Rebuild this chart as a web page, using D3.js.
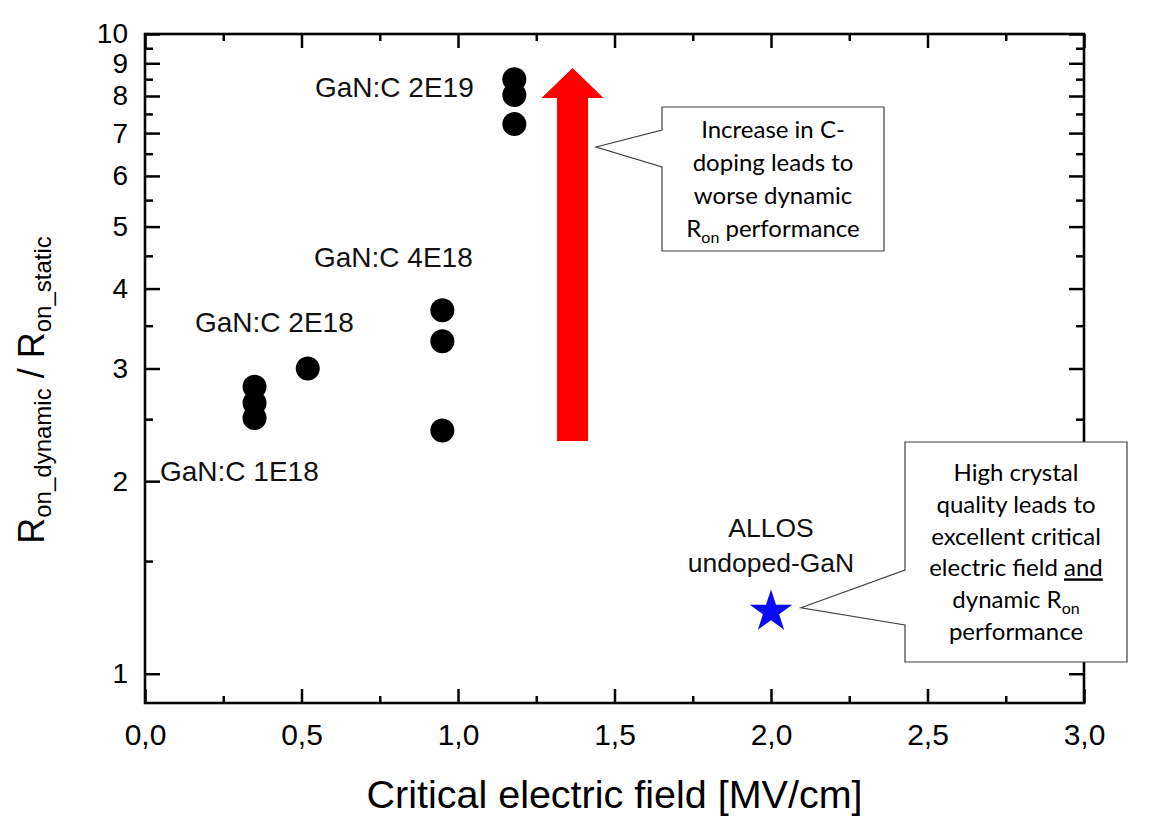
<!DOCTYPE html>
<html lang="en">
	<head>
		<meta charset="utf-8">
		<title>Dynamic Ron vs critical electric field</title>
		<style type="text/css">
			body { margin: 0; background: #fff; }
			svg { display: block; }
		</style>
	</head>
	<body>
		<script src="https://d3js.org/d3.v7.min.js"></script>
		<script type="text/javascript">
			//Width and height
			var w = 1168;
			var h = 834;
			var plotL = 145, plotR = 1084, plotT = 34, plotB = 703;

			//Measured points (critical field, Ron ratio)
			var fieldValues = [0.35, 0.35, 0.35, 0.52, 0.95, 0.95, 0.95, 1.18, 1.18, 1.18];
			var ratioValues = [2.81, 2.65, 2.51, 3.00, 3.70, 3.31, 2.40, 8.50, 8.03, 7.23];

			//ALLOS point
			var allosField = [2.0];
			var allosRatio = [1.25];

			//Tick values and labels
			var xTicks = [0, 0.5, 1.0, 1.5, 2.0, 2.5, 3.0];
			var xTickLabels = ["0,0", "0,5", "1,0", "1,5", "2,0", "2,5", "3,0"];
			var xMinorTicks = [0.25, 0.75, 1.25, 1.75, 2.25, 2.75];
			var yTicks = [1, 2, 3, 4, 5, 6, 7, 8, 9, 10];
			var yMinorTicks = [1.5, 2.5, 3.5, 4.5, 5.5, 6.5, 7.5, 8.5, 9.5];

			//Group labels
			var groupLabels = ["GaN:C 2E19", "GaN:C 4E18", "GaN:C 2E18", "GaN:C 1E18"];

			//Create scale functions
			var xScale = d3.scaleLinear()
							.domain([0, 3])
							.range([plotL, plotR]);

			var yScale = d3.scaleLog()
							.domain([0.9, 10])
							.range([plotB, plotT]);

			//Create SVG element
			var svg = d3.select("body")
						.append("svg")
						.attr("width", w)
						.attr("height", h);

			svg.append("rect")
			   .attr("width", w)
			   .attr("height", h)
			   .attr("fill", "#fff");

			var font = "'Liberation Sans', Arial, sans-serif";
			var calloutFont = "Lato, 'Open Sans', sans-serif";

			//Axes (ticks point inward, on all four sides)
			function styleAxis(g, fs) {
				g.select(".domain").remove();
				g.selectAll("line").attr("stroke", "#000").attr("stroke-width", 2.5);
				g.selectAll("text")
				 .attr("fill", "#000")
				 .attr("font-family", font)
				 .attr("font-size", fs);
			}

			var xMajor = d3.axisBottom(xScale)
							.tickValues(xTicks)
							.tickSize(-14)
							.tickPadding(21)
							.tickFormat(function(d, i) { return xTickLabels[i]; });
			var xMinor = d3.axisBottom(xScale).tickValues(xMinorTicks).tickSize(-7).tickFormat("");
			var yMajor = d3.axisLeft(yScale)
							.tickValues(yTicks)
							.tickSize(-15)
							.tickPadding(17)
							.tickFormat(function(d) { return d; });
			var yMinor = d3.axisLeft(yScale).tickValues(yMinorTicks).tickSize(-8).tickFormat("");

			svg.append("g").attr("transform", "translate(0," + plotB + ")").call(xMajor).call(styleAxis, 30);
			svg.append("g").attr("transform", "translate(0," + plotB + ")").call(xMinor).call(styleAxis, 30);
			svg.append("g").attr("transform", "translate(0," + plotT + ")")
			   .call(d3.axisTop(xScale).tickValues(xTicks).tickSize(-14).tickFormat("")).call(styleAxis, 30);
			svg.append("g").attr("transform", "translate(0," + plotT + ")")
			   .call(d3.axisTop(xScale).tickValues(xMinorTicks).tickSize(-7).tickFormat("")).call(styleAxis, 30);

			svg.append("g").attr("transform", "translate(" + plotL + ",0)").call(yMajor).call(styleAxis, 28);
			svg.append("g").attr("transform", "translate(" + plotL + ",0)").call(yMinor).call(styleAxis, 28);
			svg.append("g").attr("transform", "translate(" + plotR + ",0)")
			   .call(d3.axisRight(yScale).tickValues(yTicks).tickSize(-15).tickFormat("")).call(styleAxis, 28);
			svg.append("g").attr("transform", "translate(" + plotR + ",0)")
			   .call(d3.axisRight(yScale).tickValues(yMinorTicks).tickSize(-8).tickFormat("")).call(styleAxis, 28);

			//Frame
			svg.append("rect")
			   .attr("x", plotL)
			   .attr("y", plotT)
			   .attr("width", plotR - plotL)
			   .attr("height", plotB - plotT)
			   .attr("fill", "none")
			   .attr("stroke", "#000")
			   .attr("stroke-width", 2.6);

			//Axis titles
			svg.append("text")
			   .attr("x", (plotL + plotR) / 2)
			   .attr("y", 808)
			   .attr("text-anchor", "middle")
			   .attr("font-family", font)
			   .attr("font-size", 39.5)
			   .text("Critical electric field [MV/cm]");

			var yTitle = svg.append("text")
							.attr("transform", "translate(44,390) rotate(-90)")
							.attr("text-anchor", "middle")
							.attr("font-family", font)
							.attr("font-size", 36);
			yTitle.append("tspan").text("R");
			yTitle.append("tspan").attr("font-size", 24).attr("dy", 7).text("on_dynamic");
			yTitle.append("tspan").attr("dy", -7).text(" / R");
			yTitle.append("tspan").attr("font-size", 24).attr("dy", 7).text("on_static");

			//Red arrow (drawn in data coordinates)
			var arrowX = xScale(1.366), arrowY0 = yScale(2.31), arrowY1 = yScale(8.85);
			var shaftHalf = 15.5, headHalf = 31, headLen = 30;
			svg.append("path")
			   .attr("d", "M" + (arrowX - shaftHalf) + "," + arrowY0 +
						  "V" + (arrowY1 + headLen) +
						  "H" + (arrowX - headHalf) +
						  "L" + arrowX + "," + arrowY1 +
						  "L" + (arrowX + headHalf) + "," + (arrowY1 + headLen) +
						  "H" + (arrowX + shaftHalf) +
						  "V" + arrowY0 + "Z")
			   .attr("fill", "#ff0000");

			//Create circles
			svg.selectAll("circle")
			   .data(fieldValues)
			   .enter()
			   .append("circle")
			   .attr("cx", function(d) { return xScale(d); })
			   .attr("cy", function(d, i) { return yScale(ratioValues[i]); })
			   .attr("r", 12)
			   .attr("fill", "#000");

			//ALLOS star
			svg.selectAll("path.star")
			   .data(allosField)
			   .enter()
			   .append("path")
			   .attr("class", "star")
			   .attr("d", d3.symbol().type(d3.symbolStar).size(560))
			   .attr("transform", function(d, i) {
			   		return "translate(" + xScale(d) + "," + yScale(allosRatio[i]) + ")";
			   })
			   .attr("fill", "#0a0af5");

			//Group labels
			var labelPos = [[315, 97], [314, 267], [195, 332], [160, 481]];
			svg.selectAll("text.group")
			   .data(groupLabels)
			   .enter()
			   .append("text")
			   .attr("class", "group")
			   .attr("x", function(d, i) { return labelPos[i][0]; })
			   .attr("y", function(d, i) { return labelPos[i][1]; })
			   .attr("font-family", font)
			   .attr("font-size", 28)
			   .attr("fill", "#111")
			   .text(function(d) { return d; });

			svg.append("text")
			   .attr("x", xScale(allosField[0]))
			   .attr("y", 537)
			   .attr("text-anchor", "middle")
			   .attr("font-family", font)
			   .attr("font-size", 26.5)
			   .attr("fill", "#111")
			   .text("ALLOS");
			svg.append("text")
			   .attr("x", xScale(allosField[0]))
			   .attr("y", 572)
			   .attr("text-anchor", "middle")
			   .attr("font-family", font)
			   .attr("font-size", 26.5)
			   .attr("fill", "#111")
			   .text("undoped-GaN");

			//Callout boxes
			function callout(bx, by, bw, bh, tx, ty, b0, b1) {
				svg.append("path")
				   .attr("d", "M" + bx + "," + by + "H" + (bx + bw) + "V" + (by + bh) + "H" + bx +
							  "V" + b1 + "L" + tx + "," + ty + "L" + bx + "," + b0 + "Z")
				   .attr("fill", "#fff")
				   .attr("stroke", "#404040")
				   .attr("stroke-width", 1.2);
			}

			function lines(cx, y0, step, rows) {
				rows.forEach(function(row, i) {
					var t = svg.append("text")
							   .attr("x", cx)
							   .attr("y", y0 + i * step)
							   .attr("text-anchor", "middle")
							   .attr("font-family", calloutFont)
							   .attr("font-size", 24)
							   .attr("fill", "#000");
					row.forEach(function(part) {
						var s = t.append("tspan").text(part.t);
						if (part.sub) s.attr("font-size", 16).attr("dy", 6);
						if (part.after) s.attr("dy", -6);
						if (part.u) s.attr("text-decoration", "underline");
					});
				});
			}

			callout(662, 107, 222, 144, arrowX + shaftHalf + 8, 147, 130, 167);
			lines(773, 138, 33, [
				[{t: "Increase in C-"}],
				[{t: "doping leads to"}],
				[{t: "worse dynamic"}],
				[{t: "R"}, {t: "on", sub: true}, {t: " performance", after: true}]
			]);

			var starX = xScale(allosField[0]), starY = yScale(allosRatio[0]);
			callout(905, 442, 222, 220, starX + 30, starY - 4, 570, 625);
			lines(1016, 481, 31.8, [
				[{t: "High crystal"}],
				[{t: "quality leads to"}],
				[{t: "excellent critical"}],
				[{t: "electric field "}, {t: "and", u: true}],
				[{t: "dynamic R"}, {t: "on", sub: true}],
				[{t: "performance"}]
			]);
		</script>
	</body>
</html>
